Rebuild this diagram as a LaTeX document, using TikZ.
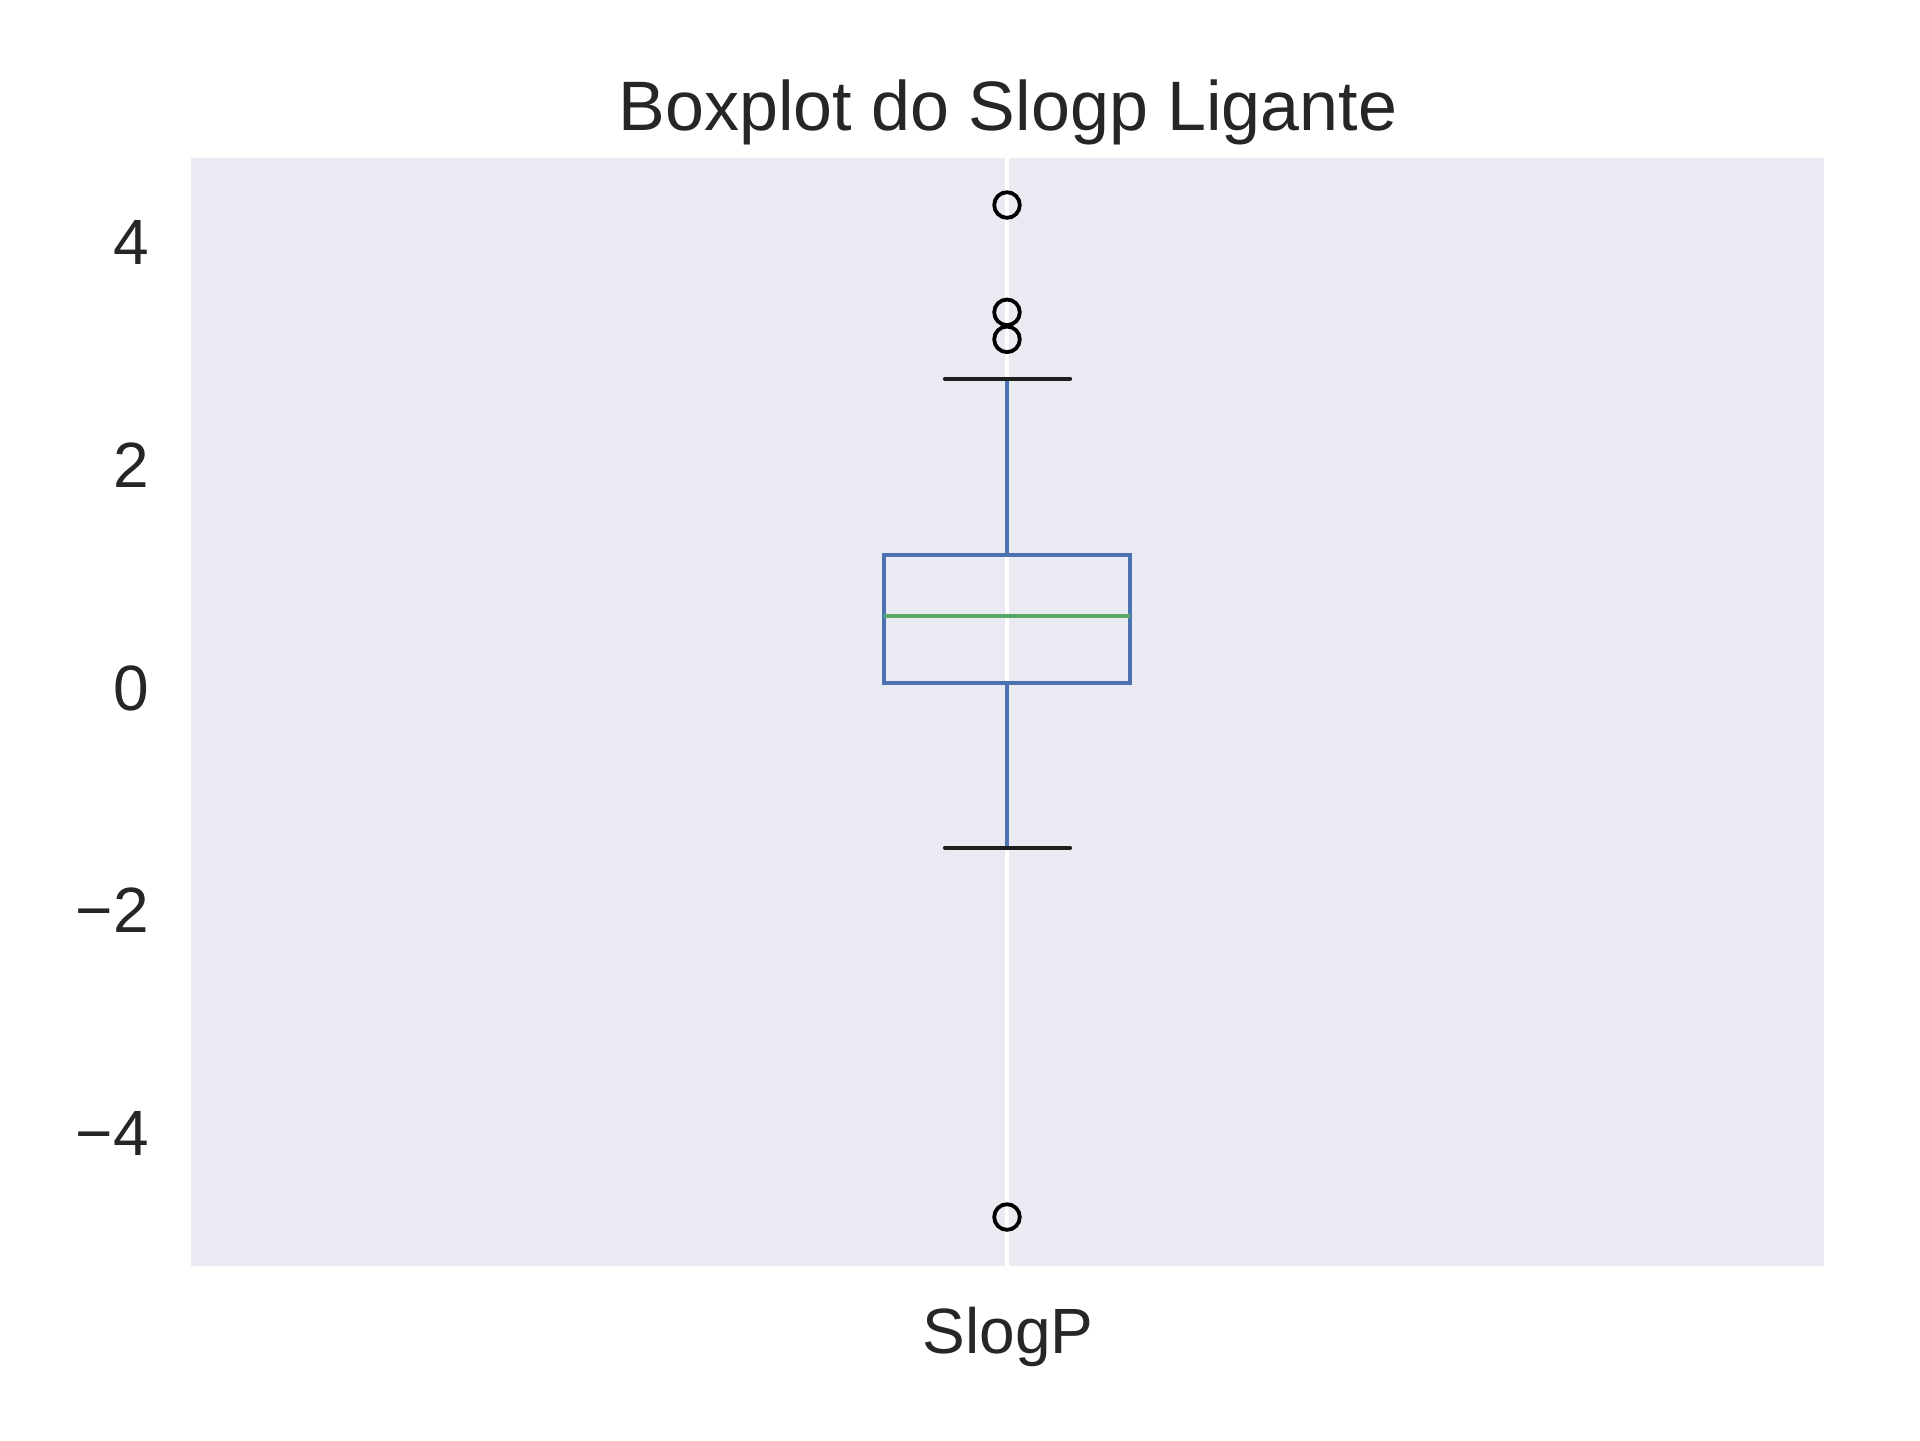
\documentclass[tikz,border=0pt]{standalone}
\usepackage{fontspec}
\setmainfont{Liberation Sans}
\definecolor{bgax}{HTML}{EAEAF2}
\definecolor{sbblue}{HTML}{4C72B0}
\definecolor{sbgreen}{HTML}{55A868}
\definecolor{txt}{HTML}{262626}
\definecolor{capk}{HTML}{1F1F1F}
\begin{document}
\begin{tikzpicture}[x=0.25pt,y=-0.25pt,
  ticklabel/.style={anchor=east,inner sep=0pt,text=txt,font=\fontsize{16}{19}\selectfont},
  boxline/.style={draw=sbblue,line width=1pt},
  capline/.style={draw=capk,line width=1.05pt,line cap=round},
  flier/.style={draw=black,line width=0.95pt},
  gridline/.style={draw=white,line width=1pt}]
\useasboundingbox (0,0) rectangle (1920,1440);
% axes background
\fill[bgax] (191,158) rectangle (1824,1266);
\draw[gridline] (1007,158) -- (1007,1266);
% whiskers
\coordinate (q3) at (1007,555.3);
\coordinate (q1) at (1007,682.7);
\coordinate (wt) at (1007,378.7);
\coordinate (wb) at (1007,847.7);
\draw[boxline] (q3) -- (wt);
\draw[boxline] (q1) -- (wb);
\draw[capline] (945,378.7) -- (1070,378.7);
\draw[capline] (945,847.7) -- (1070,847.7);
% box
\draw[boxline] (884,555.3) rectangle (1130,682.7);
\draw[draw=sbgreen,line width=1pt] (884,616) -- (1130,616);
% outliers
\draw[flier] (1007,205) circle[radius=3.2pt];
\draw[flier] (1007,312.3) circle[radius=3.2pt];
\draw[flier] (1007,339.3) circle[radius=3.2pt];
\draw[flier] (1007,1217) circle[radius=3.2pt];
% y tick labels
\node[ticklabel] (t4) at (149.5,242.8) {4};
\node[ticklabel] (t2) at (149.5,465.4) {2};
\node[ticklabel] (t0) at (149.5,688) {0};
\node[ticklabel] (tm2) at (149.5,910.6) {−2};
\node[ticklabel] (tm4) at (149.5,1133.2) {−4};
% x label
\node[anchor=base,inner sep=0pt,text=txt,font=\fontsize{16}{19}\selectfont] (xl) at (1008,1353) {SlogP};
% title
\node[anchor=base,inner sep=0pt,text=txt,font=\fontsize{17.5}{21}\selectfont] (title) at (1008,130) {Boxplot do Slogp Ligante};
\end{tikzpicture}
\end{document}
